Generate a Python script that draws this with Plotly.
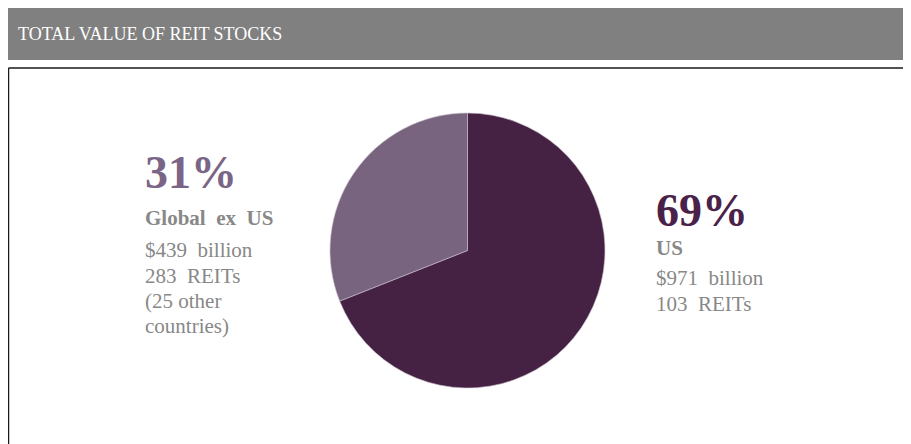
import plotly.graph_objects as go

# page body has an 8px default margin; figure fills the rest of the 911x444 window
OFF = 8
W, H = 911 - OFF, 444 - OFF

labels = ["US", "Global ex US"]
values = [69, 31]
colors = ["#452244", "#78647E"]
pct_text = ["69%", "31%"]
pct_colors = ["#4A2249", "#7A6586"]
names = ["US", "Global&nbsp; ex&nbsp; US"]
left_lines = ["$439&nbsp; billion", "283&nbsp; REITs", "(25 other", "countries)"]
right_lines = ["$971&nbsp; billion", "103&nbsp; REITs"]


def px(x):
    return (x - OFF) / W


def py(y):
    return 1 - (y - OFF) / H


fig = go.Figure()
fig.add_trace(go.Pie(
    labels=labels, values=values, sort=False, direction="clockwise", rotation=0,
    marker=dict(colors=colors, line=dict(width=0.6, color="#C9BFCB")),
    textinfo="none", hoverinfo="label+percent", showlegend=False,
    domain=dict(x=[px(330), px(605)], y=[py(388), py(113)]),
))

serif = "Liberation Serif, Times New Roman, serif"
gray = "#888888"

shapes = [
    dict(type="rect", xref="paper", yref="paper", x0=px(6), x1=px(920), y0=py(60), y1=py(6),
         fillcolor="#808080", line=dict(width=0), layer="below"),
    dict(type="line", xref="paper", yref="paper", x0=px(8.5), x1=px(920), y0=py(68), y1=py(68),
         line=dict(color="#1A1A1A", width=1.3)),
    dict(type="line", xref="paper", yref="paper", x0=px(8.6), x1=px(8.6), y0=py(68), y1=py(460),
         line=dict(color="#1A1A1A", width=1.3)),
]


def mid(baseline, size):
    return baseline - 0.335 * size


ann = [
    dict(text="TOTAL VALUE OF REIT STOCKS", x=px(16), y=py(mid(40, 18)), xanchor="left", yanchor="middle",
         font=dict(family=serif, size=18, color="white")),
    # Global ex US
    dict(text="<b>" + pct_text[1] + "</b>", x=px(143), y=py(mid(188, 46)), xanchor="left", yanchor="middle",
         font=dict(family=serif, size=46, color=pct_colors[1])),
    dict(text="<b>" + names[1] + "</b>", x=px(143), y=py(mid(225, 21)), xanchor="left", yanchor="middle",
         font=dict(family=serif, size=21, color=gray)),
    # US
    dict(text="<b>" + pct_text[0] + "</b>", x=px(654), y=py(mid(226, 46)), xanchor="left", yanchor="middle",
         font=dict(family=serif, size=46, color=pct_colors[0])),
    dict(text="<b>" + names[0] + "</b>", x=px(654), y=py(mid(255, 21)), xanchor="left", yanchor="middle",
         font=dict(family=serif, size=21, color=gray)),
]
for line, base in zip(left_lines, [257, 283, 308, 333]):
    ann.append(dict(text=line, x=px(143), y=py(mid(base, 21)), xanchor="left", yanchor="middle",
                    font=dict(family=serif, size=21, color=gray)))
for line, base in zip(right_lines, [285, 311]):
    ann.append(dict(text=line, x=px(654), y=py(mid(base, 21)), xanchor="left", yanchor="middle",
                    font=dict(family=serif, size=21, color=gray)))
for a in ann:
    a.update(xref="paper", yref="paper", showarrow=False)

fig.update_layout(
    width=W, height=H, margin=dict(l=0, r=0, t=0, b=0),
    paper_bgcolor="white", plot_bgcolor="white",
    shapes=shapes, annotations=ann,
)

fig.write_html("out.html")
